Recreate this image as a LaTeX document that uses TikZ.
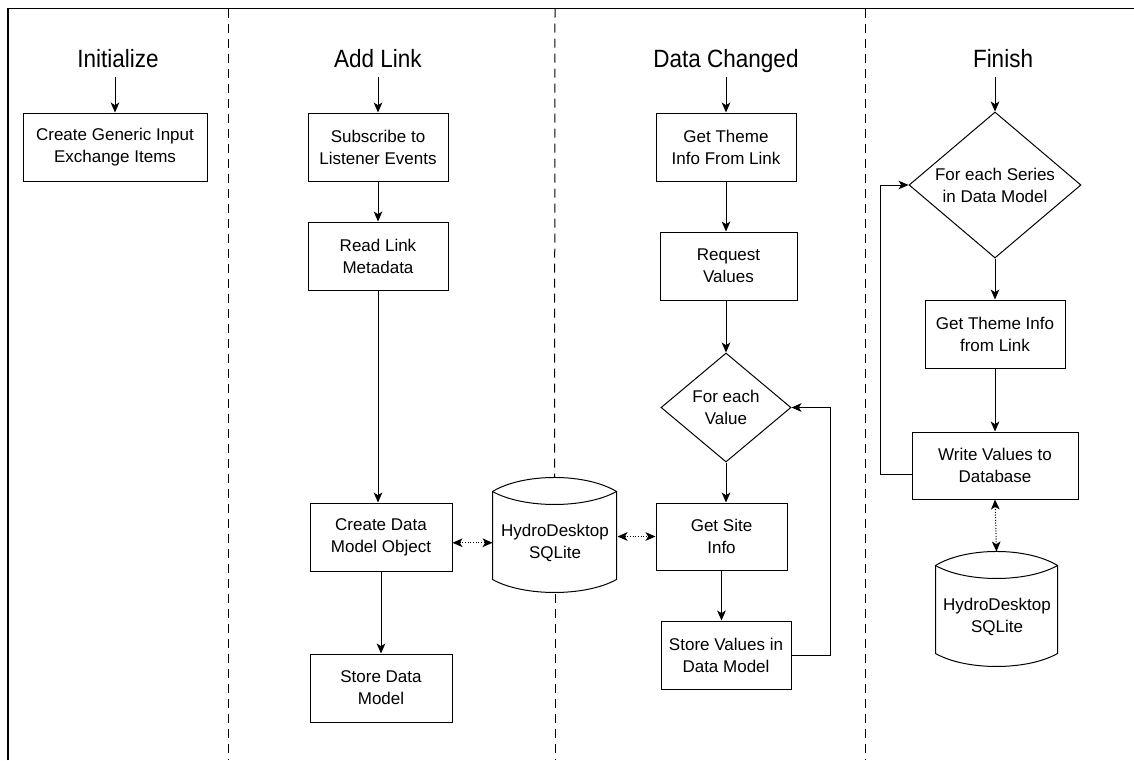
\documentclass[tikz,border=0pt]{standalone}
\usepackage{fontspec}
\setmainfont{Liberation Sans}
\newfontfamily\headfont[FakeStretch=0.9]{Liberation Sans}
\usetikzlibrary{shapes.geometric,arrows.meta}

\newcommand\boxfont{\fontsize{12.75}{16.5}\selectfont}
\newcommand\titlefont{\headfont\fontsize{18.75}{22}\selectfont}

% database outline drawn around a text node: #1 node name, #2 width (px)
\newcommand\dbshape[2]{%
  \begin{scope}[shift={(#1.north west)}]
    \draw (0,0) .. controls (#2/4,-18.7) and (3*#2/4,-18.7) .. (#2,0)
      -- (#2,88) .. controls (3*#2/4,105.3) and (#2/4,105.3) .. (0,88) -- cycle;
    \draw (0,0) .. controls (#2/4,17.3) and (3*#2/4,17.3) .. (#2,0);
    \coordinate (#1-top) at (#2/2,-14);
  \end{scope}}

\begin{document}
\begin{tikzpicture}[x=0.75pt,y=-0.75pt,line width=0.75pt,
  >={Stealth[length=7.5pt,width=6.5pt,inset=2pt]},
  box/.style 2 args={draw, minimum width=#1*0.75pt, minimum height=#2*0.75pt,
    inner sep=0pt, align=center, font=\boxfont},
  dia/.style 2 args={diamond, draw, minimum width=#1*0.75pt, minimum height=#2*0.75pt,
    inner sep=0pt, aspect=1.2, align=center, font=\boxfont},
  db/.style 2 args={minimum width=#1*0.75pt, minimum height=#2*0.75pt,
    inner sep=0pt, align=center, font=\boxfont},
  title/.style={anchor=base, font=\titlefont, inner xsep=0pt, inner ysep=6.75pt, text depth=0pt},
  divider/.style={dash pattern=on 6.75pt off 4.5pt},
  flow/.style={->},
  link/.style={<->, dash pattern=on 0.8pt off 1.2pt},
]
\useasboundingbox (0,0) rectangle (1134,760);

% outer frame
\draw[line width=1.3pt] (8,760) -- (8,8.5) -- (1134,8.5);

% column titles
\node[title] (t1) at (118,67) {Initialize};
\node[title] (t2) at (378,67) {Add Link};
\node[title] (t3) at (726,67) {Data Changed};
\node[title] (t4) at (1003,67) {Finish};

% Initialize
\node[box={184}{68}] (b1) at (115,147) {Create Generic Input\\Exchange Items};

% Add Link
\node[box={140}{68}] (sub) at (378,147) {Subscribe to\\Listener Events};
\node[box={140}{68}] (read) at (378,256) {Read Link\\Metadata};
\node[box={142}{68}] (create) at (381,537) {Create Data\\Model Object};
\node[box={142}{68}] (store) at (381,688) {Store Data\\Model};

% shared database
\node[db={124}{101.5}] (db1) at (555,542.75) {HydroDesktop\\SQLite};
\dbshape{db1}{124}

% Data Changed
\node[box={140}{68}] (gt) at (726,147) {Get Theme\\Info From Link};
\node[box={137}{68}] (req) at (728.5,266) {Request\\Values};
\node[dia={130}{109}] (d1) at (726,407.5) {For each\\Value};
\node[box={131}{67}] (site) at (721.5,536.5) {Get Site\\Info};
\node[box={130}{68}] (sv) at (726,655) {Store Values in\\Data Model};

% Finish
\node[dia={172}{146}] (d2) at (995,185) {For each Series\\in Data Model};
\node[box={140}{68}] (gt2) at (995,334) {Get Theme Info\\from Link};
\node[box={166}{67}] (wr) at (995,465.5) {Write Values to\\Database};
\node[db={122}{102}] (db2) at (997,617) {HydroDesktop\\SQLite};
\dbshape{db2}{122}

% column dividers
\coordinate (v1a) at (228.5,8.5); \coordinate (v1b) at (228.5,760);
\coordinate (v2a) at (555,8.5);   \coordinate (v2b) at (555,760);
\coordinate (v3a) at (865,8.5);   \coordinate (v3b) at (865,760);
\draw[divider] (v1a) -- (v1b);
\draw[divider] (v2a) -- (db1-top);
\draw[divider] (db1.south) -- (v2b);
\draw[divider] (v3a) -- (v3b);

% flow
\draw[flow] (t1.south -| b1.north) -- (b1.north);
\draw[flow] (t2.south -| sub.north) -- (sub.north);
\draw[flow] (sub) -- (read);
\draw[flow] (read.south) -- (read.south |- create.north);
\draw[flow] (create.south |- create.south) -- (store.north);

\draw[flow] (t3.south -| gt.north) -- (gt.north);
\draw[flow] (gt.south) -- (gt.south |- req.north);
\draw[flow] (d1.north |- req.south) -- (d1.north);
\draw[flow] (d1.south) -- (d1.south |- site.north);
\draw[flow] (site.south) -- (site.south |- sv.north);
\draw[flow] (sv.east) -- ++(39,0) |- (d1.east);

\draw[flow] (t4.south -| d2.north) -- (d2.north);
\draw[flow] (d2.south) -- (gt2.north);
\draw[flow] (gt2) -- (wr);
\draw[flow] ([yshift=-6.4pt]wr.west) -- ++(-31,0) |- (d2.west);

% database links
\draw[link] (db1.west -| create.east) -- (db1.west);
\draw[link] (site.west -| db1.east) -- (site.west);
\draw[link] (wr.south) -- (db2-top);
\end{tikzpicture}
\end{document}
